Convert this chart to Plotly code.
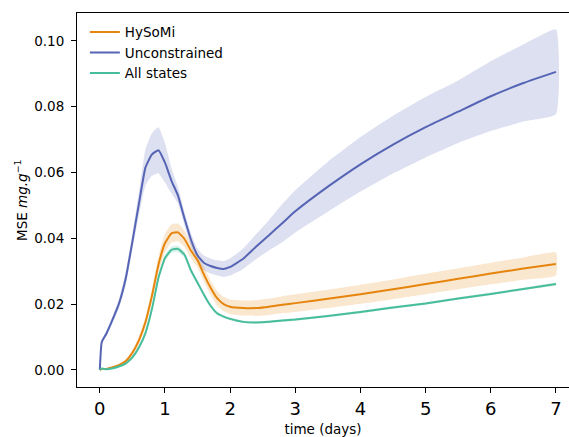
import plotly.graph_objects as go

# time grid (days)
t = [0, 0.03, 0.1, 0.2, 0.3, 0.4, 0.5, 0.6, 0.7, 0.8, 0.9, 1.0, 1.1, 1.2, 1.3, 1.4,
     1.5, 1.6, 1.7, 1.8, 1.9, 2.0, 2.2, 2.4, 2.6, 2.8, 3.0, 3.5, 4.0, 4.5, 5.0,
     5.5, 6.0, 6.5, 7.0]

# HySoMi mean and band half-width
hysomi = [0, 0.0003, 0.0003, 0.0008, 0.0015, 0.0027, 0.0052, 0.0090, 0.0145, 0.0225,
          0.0320, 0.0385, 0.0415, 0.0418, 0.0398, 0.0362, 0.0333, 0.0289, 0.0250,
          0.0218, 0.0200, 0.0192, 0.0188, 0.0188, 0.0192, 0.0198, 0.0203, 0.0216,
          0.0230, 0.0245, 0.0261, 0.0277, 0.0293, 0.0308, 0.0322]
hysomi_hw = [0, 0.0001, 0.0001, 0.0002, 0.0004, 0.0006, 0.0009, 0.0012, 0.0016, 0.0020,
             0.0025, 0.0028, 0.0028, 0.0027, 0.0025, 0.0023, 0.0022, 0.0022, 0.0022,
             0.0022, 0.0022, 0.0022, 0.0023, 0.0024, 0.0025, 0.0026, 0.0027, 0.0028,
             0.0029, 0.0030, 0.0031, 0.0032, 0.0033, 0.0034, 0.0035]

# Unconstrained mean and band half-width
unconstrained = [0, 0.0085, 0.0110, 0.0155, 0.0205, 0.0280, 0.0390, 0.0505, 0.0615,
                 0.0655, 0.0668, 0.0630, 0.0575, 0.0530, 0.0460, 0.0395, 0.0348, 0.0325,
                 0.0316, 0.0310, 0.0307, 0.0313, 0.0338, 0.0375, 0.0410, 0.0446, 0.0482,
                 0.0557, 0.0625, 0.0685, 0.0738, 0.0785, 0.0832, 0.0872, 0.0906]
unconstrained_hw = [0, 0.0007, 0.0008, 0.0010, 0.0015, 0.0020, 0.0025, 0.0035, 0.0055,
                    0.0065, 0.0070, 0.0060, 0.0038, 0.0025, 0.0020, 0.0020, 0.0020, 0.0022,
                    0.0023, 0.0023, 0.0024, 0.0026, 0.0031, 0.0038, 0.0046, 0.0058, 0.0064,
                    0.0076, 0.0083, 0.0088, 0.0092, 0.0095, 0.0106, 0.0117, 0.0129]

# All states mean and band half-width
all_states = [0, 0.0004, 0.0002, 0.0005, 0.0011, 0.0020, 0.0038, 0.0068, 0.0112, 0.0185,
              0.0280, 0.0340, 0.0365, 0.0368, 0.0350, 0.0302, 0.0265, 0.0228, 0.0195,
              0.0172, 0.0162, 0.0155, 0.0146, 0.0144, 0.0146, 0.0150, 0.0153, 0.0164,
              0.0176, 0.0190, 0.0202, 0.0217, 0.0231, 0.0246, 0.0261]
all_states_hw = [0, 0.0001, 0.0001, 0.0002, 0.0003, 0.0004, 0.0005, 0.0006, 0.0007, 0.0008,
                 0.0009, 0.0010, 0.0010, 0.0010, 0.0009, 0.0008, 0.0007, 0.0006, 0.0005,
                 0.0005, 0.0004, 0.0004, 0.0004, 0.0004, 0.0004, 0.0004, 0.0004, 0.0004,
                 0.0004, 0.0004, 0.0004, 0.0004, 0.0004, 0.0004, 0.0004]

series = [
    ("HySoMi", hysomi, hysomi_hw, (230, 133, 13)),
    ("Unconstrained", unconstrained, unconstrained_hw, (85, 100, 180)),
    ("All states", all_states, all_states_hw, (72, 189, 155)),
]

fig = go.Figure()
# bands first
for name, m, hw, c in series:
    upper = [a + b for a, b in zip(m, hw)]
    lower = [a - b for a, b in zip(m, hw)]
    fig.add_trace(go.Scatter(
        x=t + t[::-1], y=upper + lower[::-1], fill="toself",
        fillcolor=f"rgba({c[0]},{c[1]},{c[2]},0.2)", line=dict(width=0, shape="spline", smoothing=0.4),
        mode="lines", showlegend=False, hoverinfo="skip"))
for name, m, hw, c in series:
    fig.add_trace(go.Scatter(
        x=t, y=m, mode="lines", name=name,
        line=dict(color=f"rgb({c[0]},{c[1]},{c[2]})", width=2, shape="spline", smoothing=0.4)))

fig.update_layout(
    width=569, height=437,
    margin=dict(l=77, r=0, t=13, b=50, autoexpand=False),
    paper_bgcolor="white", plot_bgcolor="white",
    font=dict(family="DejaVu Sans", color="black", size=13),
    legend=dict(x=0.016, y=0.99, xanchor="left", yanchor="top",
                bgcolor="rgba(255,255,255,0)", font=dict(size=13.5),
                tracegroupgap=0, itemwidth=30),
    showlegend=True,
    annotations=[dict(
        text="MSE <i>mg.g</i><sup>−1</sup>", textangle=-90,
        xref="paper", yref="paper", x=0, y=0.5, xanchor="center", yanchor="middle",
        xshift=-56, showarrow=False, font=dict(size=13.5))],
)
fig.update_xaxes(
    range=[-0.35, 7.2], tickvals=[0, 1, 2, 3, 4, 5, 6, 7],
    tickfont=dict(size=18), showgrid=False, zeroline=False, automargin=False,
    showline=True, linecolor="black", linewidth=1, mirror=True,
    ticks="outside", ticklen=5, tickcolor="black",
    title=dict(text="time (days)", font=dict(size=13.5)),
)
fig.update_yaxes(
    range=[-0.0052, 0.1085], tickvals=[0, 0.02, 0.04, 0.06, 0.08, 0.10],
    tickformat=".2f", tickfont=dict(size=13.5), showgrid=False, zeroline=False,
    automargin=False, ticklabelstandoff=4,
    showline=True, linecolor="black", linewidth=1, mirror=False,
    ticks="outside", ticklen=5, tickcolor="black",
)

fig.write_html("out.html", config={"displayModeBar": False},
               post_script="document.body.style.margin='0';")
